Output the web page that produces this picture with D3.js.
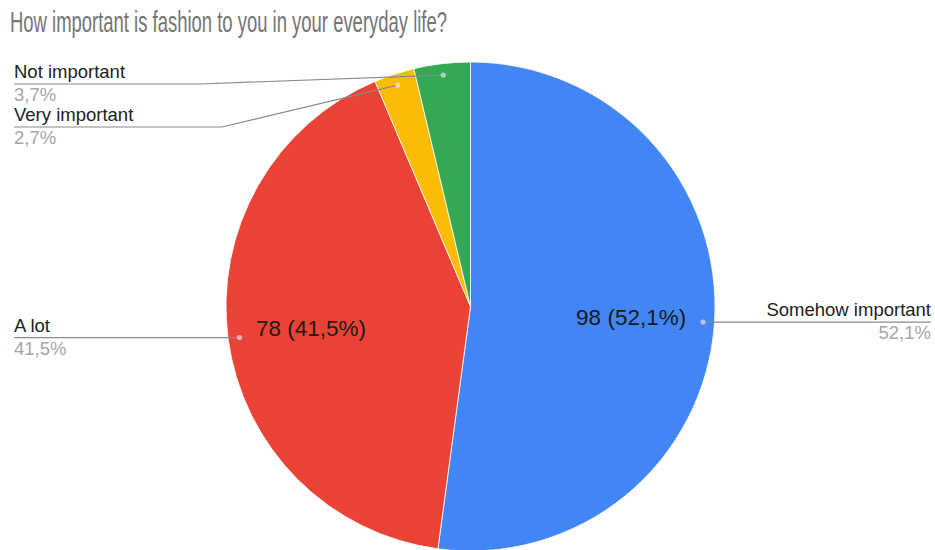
<!DOCTYPE html>
<html>
<head>
<meta charset="utf-8">
<script src="https://cdn.jsdelivr.net/npm/d3@7"></script>
<style>
  html, body { margin: 0; padding: 0; background: #fff; }
  svg { display: block; font-family: "Liberation Sans", Arial, sans-serif; }
</style>
</head>
<body>
<svg id="chart" width="935" height="550"></svg>
<script>
// Survey answers, in the order they are drawn clockwise from 12 o'clock
const categories = ["Somehow important", "A lot", "Very important", "Not important"];
const counts = [98, 78, 5, 7];
const sliceColors = ["#4285F4", "#EA4335", "#FBBC04", "#34A853"];
const title = "How important is fashion to you in your everyday life?";

const total = d3.sum(counts);
const fmtPct = v => d3.format(".1f")(v * 100).replace(".", ",") + "%";

const svg = d3.select("#chart");
const W = 935, H = 550;
const cx = 470.5, cy = 306.5, R = 244.5;

// Title
svg.append("text")
  .attr("x", 10).attr("y", 32)
  .attr("font-size", 29)
  .attr("fill", "#757575")
  .attr("textLength", 437)
  .attr("lengthAdjust", "spacingAndGlyphs")
  .text(title);

const data = categories.map((c, i) => ({ name: c, value: counts[i], color: sliceColors[i] }));
const pie = d3.pie().sort(null).value(d => d.value);
const arcs = pie(data);

const arc = d3.arc().innerRadius(0).outerRadius(R);
const dotArc = d3.arc().innerRadius(R * 0.953).outerRadius(R * 0.953);
const innerLabelArc = d3.arc().innerRadius(161).outerRadius(161);

const g = svg.append("g").attr("transform", `translate(${cx},${cy})`);

g.selectAll("path.slice")
  .data(arcs)
  .join("path")
  .attr("class", "slice")
  .attr("d", arc)
  .attr("fill", d => d.data.color)
  .attr("stroke", "#fff")
  .attr("stroke-width", 0.8);

// Value labels inside the two large slices
g.selectAll("text.inner")
  .data(arcs.filter(d => d.data.value / total > 0.1))
  .join("text")
  .attr("class", "inner")
  .attr("transform", d => `translate(${innerLabelArc.centroid(d)})`)
  .attr("text-anchor", "middle")
  .attr("dy", "0.36em")
  .attr("font-size", 22.5)
  .attr("fill", "#1a1a1a")
  .text(d => `${d.data.value} (${fmtPct(d.data.value / total)})`);

// Leader-line layout: side of the label, line height and bend point
const leaderLayout = {
  "Somehow important": { side: "right", lineY: null, bendX: null },
  "A lot":             { side: "left",  lineY: null, bendX: null },
  "Very important":    { side: "left",  lineY: 127,  bendX: 222 },
  "Not important":     { side: "left",  lineY: 84,   bendX: 200 }
};
const leftX = 14, rightX = 931;

const labels = svg.append("g");
arcs.forEach(d => {
  const [dx, dy] = dotArc.centroid(d);
  const px = cx + dx, py = cy + dy;
  const L = leaderLayout[d.data.name];
  const lineY = L.lineY == null ? py : L.lineY;
  const endX = L.side === "left" ? leftX : rightX;

  const pts = [[px, py]];
  if (L.bendX != null) pts.push([L.bendX, lineY]);
  pts.push([endX, lineY]);

  labels.append("path")
    .attr("d", d3.line()(pts))
    .attr("fill", "none")
    .attr("stroke", "#8a8a8a")
    .attr("stroke-width", 1.2);

  labels.append("circle")
    .attr("cx", px).attr("cy", py).attr("r", 2.6)
    .attr("fill", "#fff").attr("fill-opacity", 0.55);

  const anchor = L.side === "left" ? "start" : "end";
  labels.append("text")
    .attr("x", endX).attr("y", lineY - 6)
    .attr("text-anchor", anchor)
    .attr("font-size", 18.5)
    .attr("fill", "#222")
    .text(d.data.name);
  labels.append("text")
    .attr("x", endX).attr("y", lineY + 17)
    .attr("text-anchor", anchor)
    .attr("font-size", 18.5)
    .attr("fill", "#a6a6a6")
    .text(fmtPct(d.data.value / total));
});
</script>
</body>
</html>
